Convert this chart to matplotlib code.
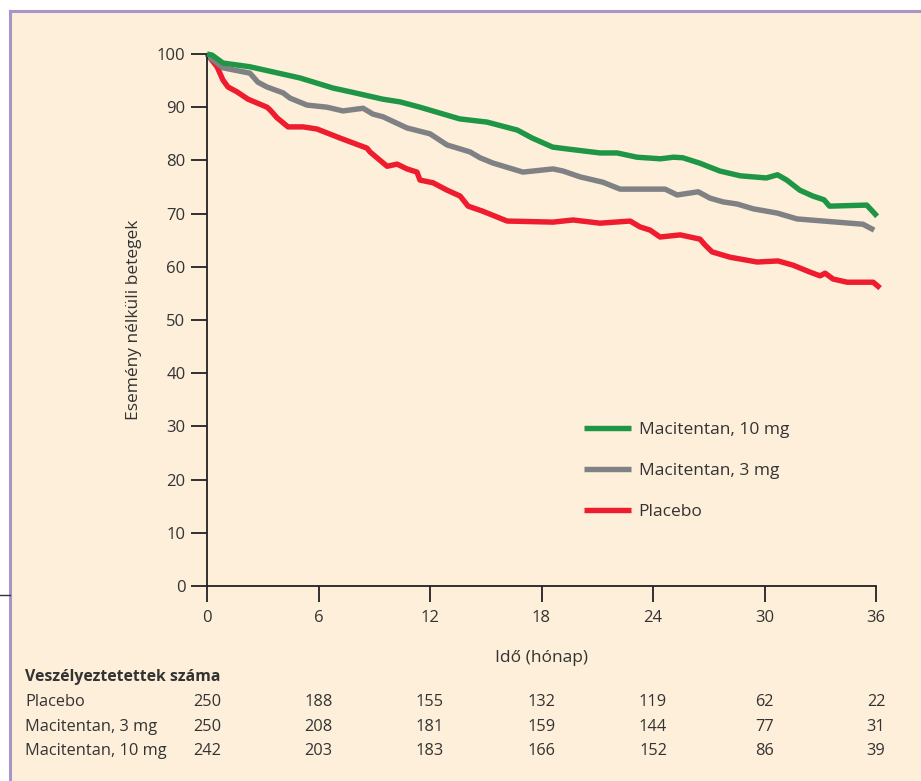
import matplotlib
matplotlib.use("Agg")
import matplotlib.pyplot as plt
from matplotlib.lines import Line2D
from matplotlib.patches import Rectangle
import matplotlib.transforms as mtransforms

plt.rcParams['font.family'] = ['Open Sans', 'DejaVu Sans']

# ---- data ----
green_t = [0, 0.27, 0.86, 2.31, 5.0, 6.78, 7.70, 9.47, 10.39, 11.46, 13.6, 15.07, 16.7, 17.5, 18.6,
           19.5, 21.15, 22.07, 23.14, 24.4, 25.1, 25.6, 26.5, 27.6, 28.7, 30.1, 30.7, 31.2, 31.9,
           32.6, 33.2, 33.5, 35.5, 35.85, 36.06]
green_v = [100, 99.8, 98.3, 97.6, 95.5, 93.6, 92.9, 91.5, 91.0, 90.0, 87.8, 87.2, 85.7, 84.2, 82.5,
           82.1, 81.4, 81.4, 80.6, 80.3, 80.6, 80.5, 79.5, 78.0, 77.1, 76.7, 77.3, 76.3, 74.4,
           73.3, 72.6, 71.4, 71.6, 70.3, 69.5]

gray_t = [0, 0.16, 0.86, 2.31, 2.74, 3.23, 4.09, 4.47, 5.38, 6.46, 7.32, 8.40, 8.93, 9.47, 10.76,
          12.0, 12.92, 14.15, 14.69, 15.39, 17.0, 18.62, 19.16, 20.08, 21.3, 22.23, 24.65, 25.3,
          26.43, 27.07, 27.77, 28.53, 29.39, 30.68, 31.75, 35.3, 35.57, 35.9]
gray_v = [100, 99.4, 97.4, 96.4, 94.7, 93.8, 92.7, 91.7, 90.4, 90.0, 89.3, 89.8, 88.7, 88.2, 86.1,
          85.0, 82.9, 81.6, 80.5, 79.5, 77.8, 78.4, 78.0, 76.9, 75.9, 74.6, 74.6, 73.5,
          74.1, 72.9, 72.2, 71.8, 70.9, 70.1, 69.0, 68.0, 67.5, 66.9]

red_t = [0, 0.54, 0.86, 1.13, 1.61, 2.21, 3.23, 3.39, 3.77, 4.36, 5.17, 5.92, 7.16, 8.61, 8.77,
         9.69, 10.23, 10.76, 11.30, 11.46, 12.16, 12.92, 13.62, 14.05, 14.80, 16.15, 18.62, 19.70,
         21.15, 22.77, 23.3, 23.84, 24.38, 25.46, 26.53, 26.8, 27.18, 28.15, 29.6, 30.73, 31.54,
         32.45, 32.99, 33.26, 33.69, 34.45, 35.85, 36.22]
red_v = [100, 97.6, 95.1, 93.8, 92.9, 91.5, 90.0, 89.5, 88.0, 86.3, 86.3, 85.9, 84.2, 82.3, 81.6,
         78.9, 79.3, 78.4, 77.8, 76.3, 75.8, 74.4, 73.3, 71.4, 70.5, 68.6, 68.4, 68.8,
         68.2, 68.6, 67.5, 66.9, 65.6, 66.0, 65.2, 64.1, 62.8, 61.8, 60.9, 61.1, 60.3,
         59.0, 58.3, 58.8, 57.7, 57.1, 57.1, 56.0]

x_ticks = [0, 6, 12, 18, 24, 30, 36]
y_ticks = [0, 10, 20, 30, 40, 50, 60, 70, 80, 90, 100]

risk_title = "Veszélyeztetettek száma"
risk_labels = ["Placebo", "Macitentan, 3 mg", "Macitentan, 10 mg"]
risk_placebo = [250, 188, 155, 132, 119, 62, 22]
risk_m3 = [250, 208, 181, 159, 144, 77, 31]
risk_m10 = [242, 203, 183, 166, 152, 86, 39]

series_labels = ["Macitentan, 10 mg", "Macitentan, 3 mg", "Placebo"]

# ---- style ----
CREAM = "#FDEFD9"
PURPLE = "#A896C8"
GREEN = "#1F9646"
GRAY = "#808185"
RED = "#EE1C2E"
TXT = "#333333"

W, H = 921, 781
fig = plt.figure(figsize=(W / 100, H / 100), dpi=100, facecolor="white")

# background panel with purple border
fig.patches.append(Rectangle((10 / W, 0), 1 - 10 / W, (H - 11) / H, transform=fig.transFigure,
                             facecolor=CREAM, edgecolor="none", zorder=-5))
fig.lines.append(Line2D([10 / W, 1], [(H - 11) / H, (H - 11) / H], transform=fig.transFigure,
                        color=PURPLE, lw=2.2, zorder=-4))
fig.lines.append(Line2D([10 / W, 10 / W], [0, (H - 11) / H], transform=fig.transFigure,
                        color=PURPLE, lw=2.2, zorder=-4))
fig.lines.append(Line2D([0, 10 / W], [(H - 595) / H, (H - 595) / H], transform=fig.transFigure,
                        color="#333333", lw=1.0, zorder=-4))

left, right = 207 / W, 876 / W
bottom, top = (H - 586) / H, (H - 54) / H
ax = fig.add_axes([left, bottom, right - left, top - bottom])
ax.set_facecolor("none")
ax.set_zorder(1)

lw = 3.9
ax.plot(green_t, green_v, color=GREEN, lw=lw, solid_capstyle="butt", clip_on=False, zorder=3,
        label=series_labels[0])
ax.plot(gray_t, gray_v, color=GRAY, lw=lw, solid_capstyle="butt", clip_on=False, zorder=2,
        label=series_labels[1])
ax.plot(red_t, red_v, color=RED, lw=lw, solid_capstyle="butt", clip_on=False, zorder=1,
        label=series_labels[2])

ax.set_xlim(0, 36)
ax.set_ylim(0, 100)
ax.set_xticks(x_ticks)
ax.set_yticks(y_ticks)
for s in ["top", "right"]:
    ax.spines[s].set_visible(False)
for s in ["left", "bottom"]:
    ax.spines[s].set_color("#222222")
    ax.spines[s].set_linewidth(1.3)
ax.tick_params(direction="out", length=11.5, width=1.3, color="#222222",
               labelsize=12, labelcolor=TXT)
ax.tick_params(axis="x", pad=6)
ax.tick_params(axis="y", pad=4)
ax.set_xlabel("Idő (hónap)", fontsize=12.5, color=TXT, labelpad=17)
ax.set_ylabel("Esemény nélküli betegek", fontsize=12.5, color=TXT, labelpad=11)

leg = ax.legend(loc="upper left", bbox_to_anchor=((585 - 207) / (876 - 207) - 0.012,
                                                   (586 - 415) / (586 - 54)),
                frameon=False, fontsize=12.5, handlelength=2.7, handletextpad=0.45,
                labelspacing=1.42, borderaxespad=0)
for t in leg.get_texts():
    t.set_color(TXT)

# risk table
trans = mtransforms.blended_transform_factory(ax.transData, fig.transFigure)
fig.text(25 / W, (H - 677) / H, risk_title, fontsize=11.4, fontweight="bold", color=TXT,
         va="center", ha="left")
rows_y = [702, 727, 751]
for lab, vals, yy in zip(risk_labels, [risk_placebo, risk_m3, risk_m10], rows_y):
    fig.text(25 / W, (H - yy) / H, lab, fontsize=11.8, color=TXT, va="center", ha="left")
    for xt, v in zip(x_ticks, vals):
        ax.text(xt, (H - yy) / H, str(v), transform=trans, fontsize=11.8, color=TXT,
                va="center", ha="center")

fig.savefig("out.png", dpi=100, facecolor="white")
